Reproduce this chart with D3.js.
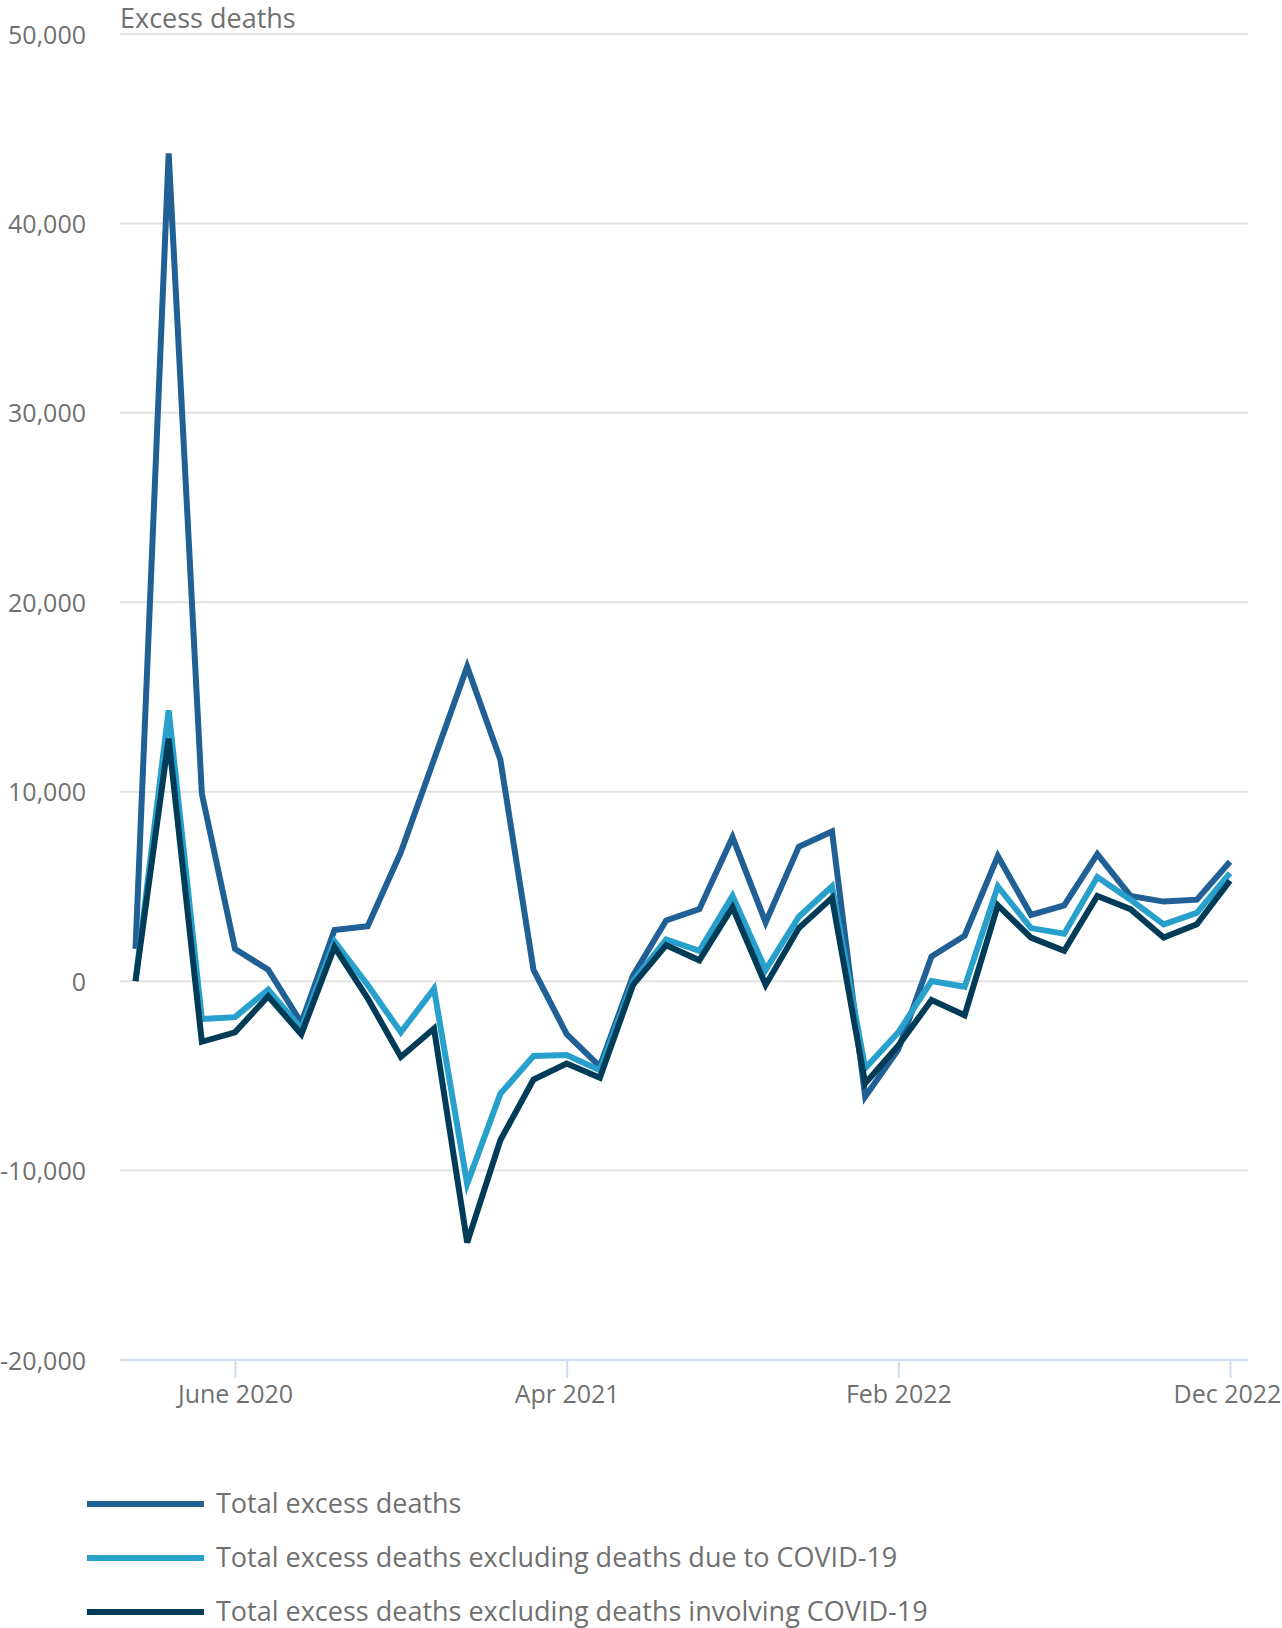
<!DOCTYPE html>
<html>
<head>
<meta charset="utf-8">
<script src="https://cdn.jsdelivr.net/npm/d3@7"></script>
<style>
	body { margin: 0; background: #fff; }
	#chart { width: 1282px; height: 1628px; }
	text { font-family: "Open Sans", sans-serif; fill: #707071; }
</style>
</head>
<body>
<div id="chart"></div>
<script>
// months Mar 2020 .. Dec 2022
var months = d3.timeMonth.range(new Date(2020, 2, 1), new Date(2023, 0, 1));
var monthKey = d3.timeFormat('%b %Y');

// Total excess deaths
var totalExcess = [1700, 43700, 9900, 1700, 600, -2200, 2700, 2900, 6800, 11700,
	16600, 11700, 600, -2800, -4500, 300, 3200, 3800, 7600, 3100,
	7100, 7900, -6100, -3600, 1300, 2400, 6600, 3500, 4000, 6700,
	4500, 4200, 4300, 6300];
// Total excess deaths excluding deaths due to COVID-19
var exclDueCovid = [0, 14300, -2000, -1900, -450, -2500, 2100, -200, -2700, -400,
	-10700, -5950, -3950, -3900, -4700, 0, 2200, 1600, 4500, 600,
	3400, 5000, -4600, -2700, 0, -300, 5000, 2800, 2500, 5500,
	4300, 3000, 3600, 5700];
// Total excess deaths excluding deaths involving COVID-19
var exclInvolvingCovid = [0, 12800, -3200, -2700, -800, -2800, 1800, -900, -4000, -2500,
	-13800, -8400, -5200, -4350, -5100, -200, 1900, 1100, 3900, -200,
	2800, 4400, -5400, -3400, -1000, -1800, 4000, 2300, 1600, 4500,
	3800, 2300, 3000, 5300];

var seriesNames = ['Total excess deaths',
	'Total excess deaths excluding deaths due to COVID-19',
	'Total excess deaths excluding deaths involving COVID-19'];
var seriesColors = ['#206095', '#27a0cc', '#003c57'];

var yTicks = [-20000, -10000, 0, 10000, 20000, 30000, 40000, 50000];
var xTickMonths = ['Jun 2020', 'Apr 2021', 'Feb 2022', 'Dec 2022'];
var xTickLabels = ['June 2020', 'Apr 2021', 'Feb 2022', 'Dec 2022'];

var
WIDTH = 1282,
HEIGHT = 1628,
GRID_LEFT = 120,
GRID_RIGHT = 1248,
LINE_W = 6;

// plain hyphen for negatives, like the original
var locale = d3.formatLocale({decimal: '.', thousands: ',', grouping: [3], currency: ['', ''], minus: '-'});

var svg = d3
	.select('#chart')
	.append('svg')
	.attr('width', WIDTH)
	.attr('height', HEIGHT)
	;

var x = d3.scalePoint()
	.domain(months.map(monthKey))
	.range([135.5, 1230]);
var y = d3.scaleLinear()
	.domain([-20000, 50000])
	.range([1360, 34]);

// gridlines
svg.append('g')
	.selectAll('line')
	.data(yTicks.filter(function(d) { return d > -20000; }))
	.enter()
	.append('line')
	.attr('x1', GRID_LEFT)
	.attr('x2', GRID_RIGHT)
	.attr('y1', function(d) { return y(d); })
	.attr('y2', function(d) { return y(d); })
	.attr('stroke', '#e2e2e3')
	.attr('stroke-width', 2)
	;

// y axis labels
var yAxis = d3.axisLeft(y)
	.tickValues(yTicks)
	.tickSize(0)
	.tickPadding(0)
	.tickFormat(locale.format(','));
var yg = svg.append('g')
	.attr('transform', 'translate(86,1)')
	.call(yAxis);
yg.select('.domain').remove();
yg.selectAll('text')
	.attr('font-size', 25)
	.attr('fill', '#707071')
	.style('font-family', '"Open Sans", sans-serif');

// x axis
var xAxis = d3.axisBottom(x)
	.tickValues(xTickMonths)
	.tickSize(18)
	.tickPadding(7)
	.tickFormat(function(d) { return xTickLabels[xTickMonths.indexOf(d)]; });
var xg = svg.append('g')
	.attr('transform', 'translate(0,' + y(-20000) + ')')
	.call(xAxis);
xg.select('.domain').remove();
xg.append('line')
	.attr('x1', GRID_LEFT)
	.attr('x2', GRID_RIGHT)
	.attr('stroke', '#d0dcef')
	.attr('stroke-width', 2);
xg.selectAll('.tick line')
	.attr('stroke', '#d0dcef')
	.attr('stroke-width', 2);
xg.selectAll('text')
	.attr('font-size', 25)
	.attr('fill', '#707071')
	.style('font-family', '"Open Sans", sans-serif');
// last label sits against the right edge
xg.selectAll('.tick text')
	.filter(function(d) { return d === 'Dec 2022'; })
	.attr('dx', -3);

// axis title
svg.append('text')
	.attr('x', 120)
	.attr('y', 28)
	.attr('font-size', 27)
	.text('Excess deaths');

// lines
var allSeries = [totalExcess, exclDueCovid, exclInvolvingCovid];
var line = d3.line()
	.x(function(d, i) { return x(monthKey(months[i])); })
	.y(function(d) { return y(d); });

svg.append('g')
	.selectAll('path')
	.data(allSeries)
	.enter()
	.append('path')
	.attr('d', line)
	.attr('fill', 'none')
	.attr('stroke', function(d, i) { return seriesColors[i]; })
	.attr('stroke-width', LINE_W)
	;

// legend
var legend = svg.append('g')
	.attr('class', 'legend')
	.selectAll('g')
	.data(seriesNames)
	.enter()
	.append('g')
	.attr('transform', function(d, i) { return 'translate(87,' + (1504 + i * 54) + ')'; })
	;
legend.append('line')
	.attr('x1', 0)
	.attr('x2', 117)
	.attr('stroke', function(d, i) { return seriesColors[i]; })
	.attr('stroke-width', 6);
legend.append('text')
	.attr('x', 129)
	.attr('dy', '0.35em')
	.attr('font-size', 27)
	.text(function(d) { return d; });
</script>
</body>
</html>
